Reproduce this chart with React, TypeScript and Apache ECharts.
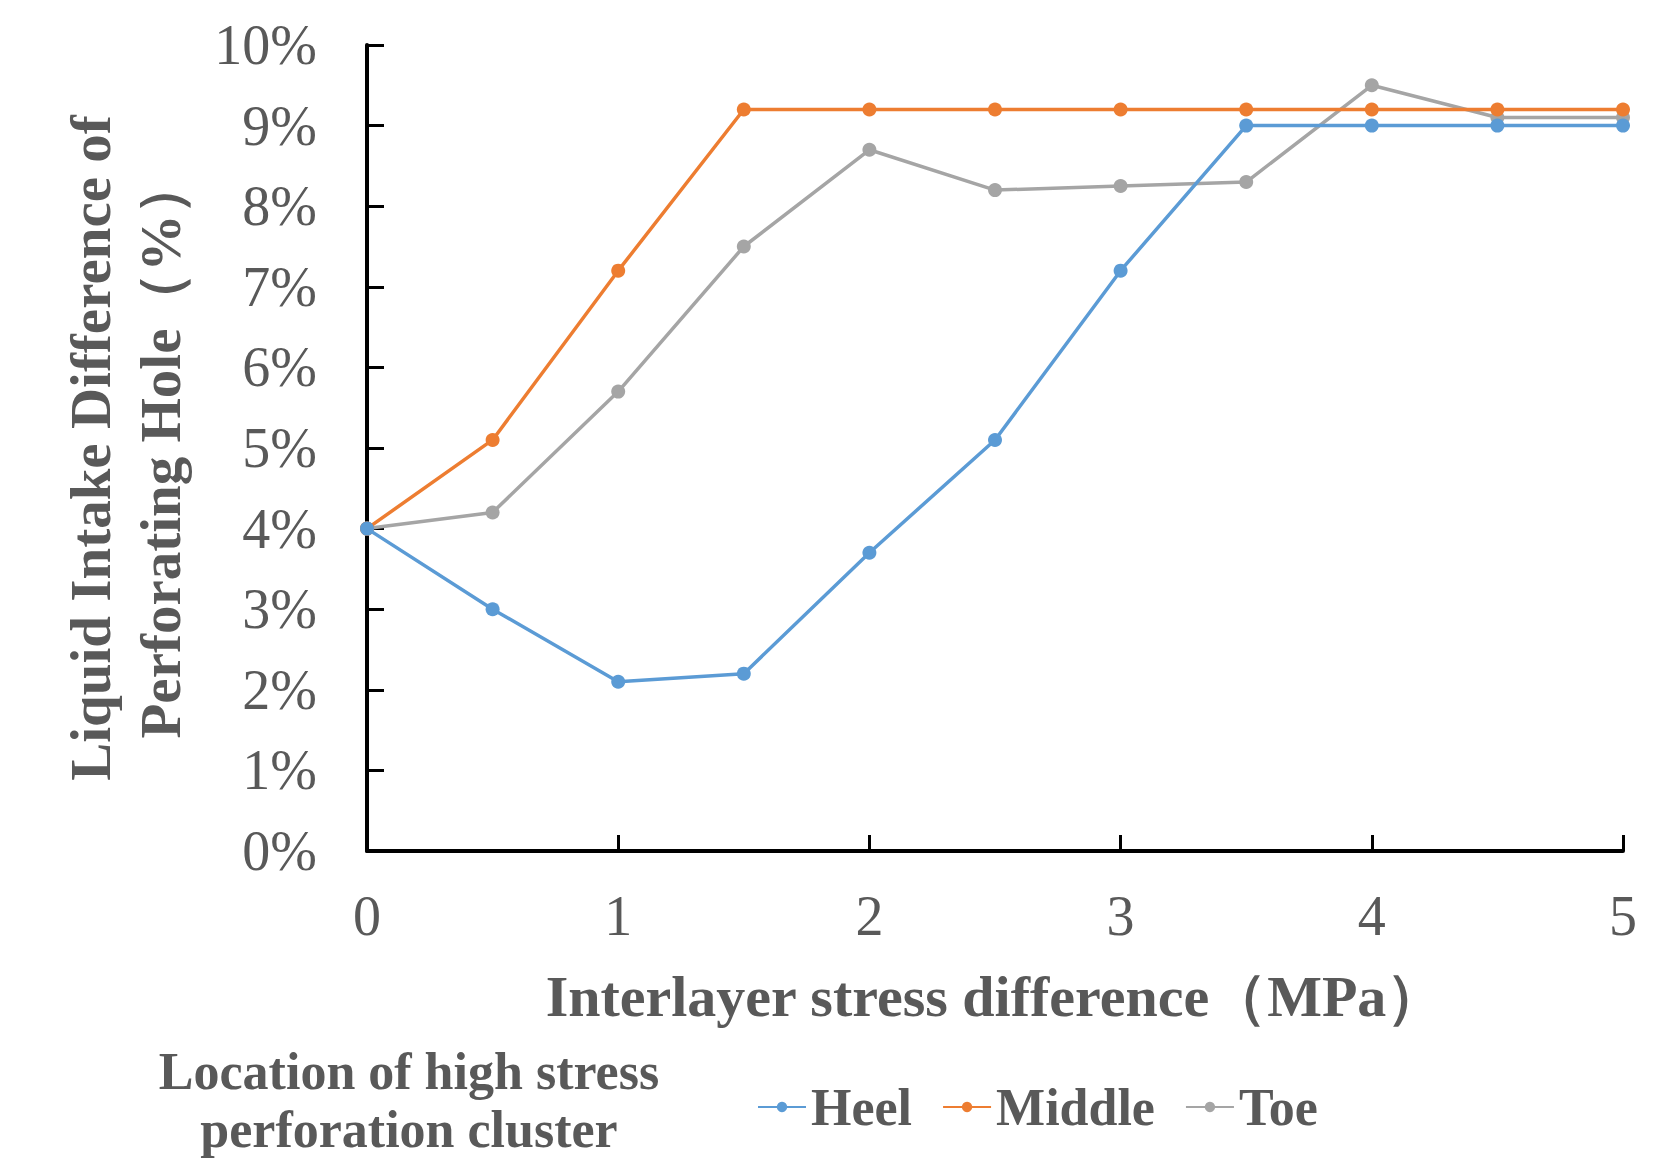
import React, { useEffect, useRef } from "react";
import * as echarts from "echarts";

const xValues = [0, 0.5, 1, 1.5, 2, 2.5, 3, 3.5, 4, 4.5, 5];
const heel = [4.0, 3.0, 2.1, 2.2, 3.7, 5.1, 7.2, 9.0, 9.0, 9.0, 9.0];
const middle = [4.0, 5.1, 7.2, 9.2, 9.2, 9.2, 9.2, 9.2, 9.2, 9.2, 9.2];
const toe = [4.0, 4.2, 5.7, 7.5, 8.7, 8.2, 8.25, 8.3, 9.5, 9.1, 9.1];
const seriesNames = ["Heel", "Middle", "Toe"];
const seriesColors = ["#5B9BD5", "#ED7D31", "#A5A5A5"];

const FONT = "'Liberation Serif', 'Times New Roman', serif";
const GREY = "#595959";

export default function App() {
  const ref = useRef<HTMLDivElement>(null);
  useEffect(() => {
    if (!ref.current) return;
    const chart = echarts.init(ref.current, null, { renderer: "svg" });
    const data = [heel, middle, toe];
    chart.setOption({
      animation: false,
      backgroundColor: "#ffffff",
      grid: { left: 367, top: 45, width: 1256, height: 806, containLabel: false },
      xAxis: {
        type: "value",
        min: 0,
        max: 5,
        interval: 1,
        name: "Interlayer stress difference（MPa）",
        nameLocation: "middle",
        nameGap: 116,
        nameTextStyle: { fontFamily: FONT, fontSize: 58, fontWeight: "bold", color: GREY },
        axisLine: { show: true, lineStyle: { color: "#000", width: 4 } },
        axisTick: { show: true, inside: true, length: 16, lineStyle: { color: "#000", width: 3 } },
        axisLabel: { fontFamily: FONT, fontSize: 56, color: GREY, margin: 37 },
        splitLine: { show: false },
      },
      yAxis: {
        type: "value",
        min: 0,
        max: 10,
        interval: 1,
        name: "Liquid Intake Difference of\nPerforating Hole（%）",
        nameLocation: "middle",
        nameRotate: 90,
        nameGap: 172,
        nameTextStyle: { fontFamily: FONT, fontSize: 57, fontWeight: "bold", color: GREY, lineHeight: 70 },
        axisLine: { show: true, lineStyle: { color: "#000", width: 4 } },
        axisTick: { show: true, inside: true, length: 17, lineStyle: { color: "#000", width: 3 } },
        axisLabel: { fontFamily: FONT, fontSize: 56, color: GREY, margin: 50, formatter: "{value}%" },
        splitLine: { show: false },
      },
      legend: {
        left: 752,
        top: 1076,
        itemWidth: 48,
        itemHeight: 13,
        itemGap: 30,
        data: seriesNames,
        textStyle: { fontFamily: FONT, fontSize: 52, fontWeight: "bold", color: GREY },
      },
      graphic: [
        {
          type: "text",
          x: 409,
          y: 1100,
          style: {
            text: "Location of high stress\nperforation cluster",
            fontFamily: FONT,
            fontSize: 52,
            fontWeight: "bold",
            fill: GREY,
            align: "center",
            verticalAlign: "middle",
            lineHeight: 58,
          },
        },
      ],
      series: data.map((d, i) => ({
        name: seriesNames[i],
        type: "line",
        data: xValues.map((x, j) => [x, d[j]]),
        symbol: "circle",
        symbolSize: 14,
        color: seriesColors[i],
        lineStyle: { width: 3.5, color: seriesColors[i] },
        itemStyle: { color: seriesColors[i] },
        z: i === 0 ? 4 : i === 1 ? 3 : 2,
      })),
    });
    return () => chart.dispose();
  }, []);
  return (
    <div
      ref={ref}
      style={{ position: "fixed", left: 0, top: 0, width: 1678, height: 1173, background: "#fff" }}
    />
  );
}
